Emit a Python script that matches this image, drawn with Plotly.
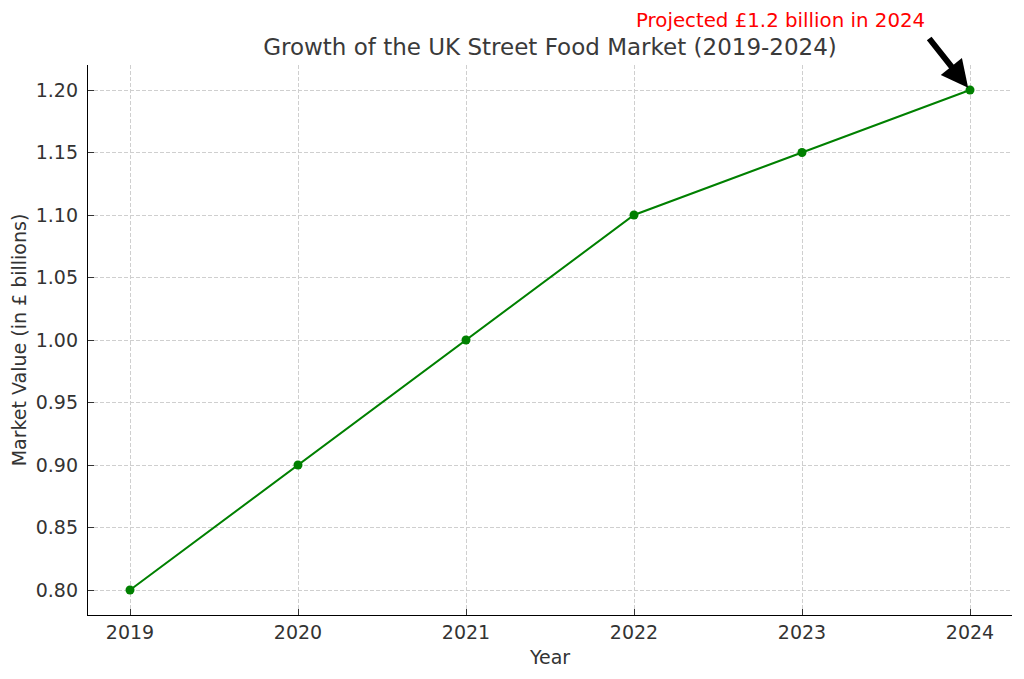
import plotly.graph_objects as go

# dane rynku
years = [2019, 2020, 2021, 2022, 2023, 2024]
market_value = [0.80, 0.90, 1.00, 1.10, 1.15, 1.20]
y_ticks = [0.80, 0.85, 0.90, 0.95, 1.00, 1.05, 1.10, 1.15, 1.20]

# strona ma margines 8px, więc wymiary i marginesy są przesunięte
W, H = 1016, 671
L, R, T, B = 80, 12, 57, 64

fig = go.Figure()

fig.add_trace(go.Scatter(
    x=years,
    y=market_value,
    mode='lines+markers',
    line=dict(color='green', width=2),
    marker=dict(color='green', size=9),
    showlegend=False
))

# strzałka do ostatniego punktu
fig.add_annotation(
    x=years[-1], y=market_value[-1],
    xref='x', yref='y',
    text='',
    showarrow=True,
    arrowhead=2, arrowsize=0.9, arrowwidth=6,
    arrowcolor='black',
    ax=-42, ay=-53,
    standoff=3
)
# tekst nad wykresem (piksele -> paper)
fig.add_annotation(
    x=(780 - 8 - L) / (W - L - R),
    y=(H - B - (20 - 8)) / (H - T - B),
    xref='paper', yref='paper',
    text=f'Projected £{market_value[-1]} billion in {years[-1]}',
    showarrow=False,
    font=dict(color='red', size=19.8),
    xanchor='center', yanchor='middle'
)

axis_common = dict(
    showline=True, linecolor='black', linewidth=1.3,
    ticks='inside', ticklen=6, tickcolor='#333333', tickwidth=1.2,
    showgrid=True, gridcolor='#cfcfcf', griddash='4px,2px', gridwidth=1,
    zeroline=False,
    tickfont=dict(size=19, color='#333333'),
    mirror=False,
    automargin=False,
)

fig.update_layout(
    title=dict(text='Growth of the UK Street Food Market (2019-2024)',
               x=0.5, xanchor='center', xref='paper',
               y=1 - (47 - 8) / H, yanchor='middle',
               font=dict(size=23, color='#3a3a3a')),
    width=W, height=H,
    paper_bgcolor='white', plot_bgcolor='white',
    font=dict(family='DejaVu Sans', color='#333333'),
    margin=dict(l=L, r=R, t=T, b=B),
    xaxis=dict(
        range=[2018.75, 2024.25],
        tickvals=years,
        ticklabelstandoff=0,
        title=dict(text='Year', font=dict(size=19), standoff=8),
        **axis_common
    ),
    yaxis=dict(
        range=[0.78, 1.22],
        tickvals=y_ticks,
        tickformat='.2f',
        ticklabelstandoff=5,
        title=dict(text='Market Value (in £ billions)', font=dict(size=19), standoff=10),
        **axis_common
    ),
)

fig.write_html("out.html")
